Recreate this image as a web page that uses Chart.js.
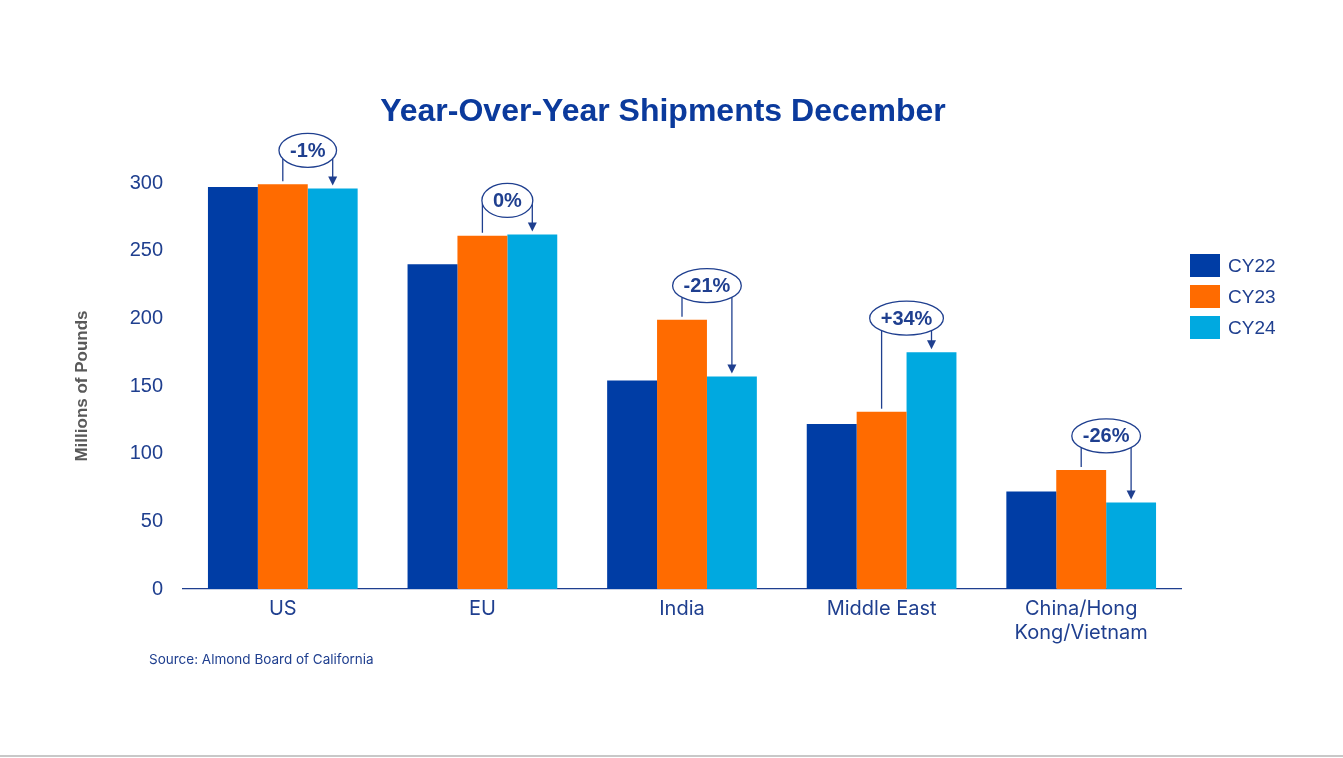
<!DOCTYPE html>
<html lang="en">
<head>
    <meta charset="UTF-8">
    <title>Year-Over-Year Shipments December</title>
    <script src="https://cdn.jsdelivr.net/npm/chart.js"></script>
    <style>
        body { margin: 0; background: #fff; overflow: hidden; }
        #wrap { position: relative; width: 1343px; height: 758px; }
        #title { position: absolute; left: 0; width: 1326px; top: 92px; text-align: center; font-family: "Liberation Sans", Arial, sans-serif; font-weight: bold; font-size: 32px; color: #0b3a9c; }
        #legend { position: absolute; left: 1190px; top: 250px; font-family: "Liberation Sans", Arial, sans-serif; font-size: 19px; color: #1f3f8f; }
        .row { display: flex; align-items: center; height: 31px; }
        .sw { width: 30px; height: 23px; margin-right: 8px; }
        #source { position: absolute; left: 149px; top: 651px; font-family: Inter, "Noto Sans", sans-serif; font-size: 13.5px; color: #1f3f8f; }
        #rule { position: absolute; left: 0; top: 755px; width: 1343px; height: 2px; background: #c8c8c8; }
    </style>
</head>
<body>
<div id="wrap">
    <canvas id="shipChart" width="1343" height="758"></canvas>
    <div id="title">Year-Over-Year Shipments December</div>
    <div id="legend"></div>
    <div id="source">Source: Almond Board of California</div>
    <div id="rule"></div>
</div>

<script>
    // data (millions of pounds)
    const regions = ['US', 'EU', 'India', 'Middle East', ['China/Hong', 'Kong/Vietnam']];
    const seriesNames = ['CY22', 'CY23', 'CY24'];
    const cy22 = [297, 240, 154, 122, 72];
    const cy23 = [299, 261, 199, 131, 88];
    const cy24 = [296, 262, 157, 175, 64];
    const changeLabels = ['-1%', '0%', '-21%', '+34%', '-26%'];
    const yTicks = [0, 50, 100, 150, 200, 250, 300];

    const colors = ['#003da5', '#ff6b00', '#00a9e0'];
    const ink = '#1f3f8f';

    // legend
    const legendEl = document.getElementById('legend');
    seriesNames.forEach((name, i) => {
        const row = document.createElement('div');
        row.className = 'row';
        row.innerHTML = '<div class="sw" style="background:' + colors[i] + '"></div>' + name;
        legendEl.appendChild(row);
    });

    // ellipse callouts with bracket lines from CY23 to CY24
    const callouts = {
        id: 'callouts',
        afterDatasetsDraw(chart) {
            const ctx = chart.ctx;
            const y = chart.scales.y;
            const m23 = chart.getDatasetMeta(1).data;
            const m24 = chart.getDatasetMeta(2).data;
            ctx.save();
            ctx.font = 'bold 20px "Liberation Sans", Arial, sans-serif';
            ctx.strokeStyle = ink;
            ctx.fillStyle = ink;
            ctx.lineWidth = 1.3;
            changeLabels.forEach((txt, i) => {
                const b23 = m23[i], b24 = m24[i];
                const top = y.getPixelForValue(Math.max(cy23[i], cy24[i]));
                const cx = (b23.x + b24.x) / 2;
                const cyy = top - 34;
                const rx = (ctx.measureText(txt).width + 22) / 2;
                const ry = 17;
                const edge = (x) => {
                    const d = Math.abs(x - cx);
                    return d >= rx ? cyy : cyy + ry * Math.sqrt(1 - (d / rx) * (d / rx));
                };
                // left leg down to CY23
                ctx.beginPath();
                ctx.moveTo(b23.x, edge(b23.x));
                ctx.lineTo(b23.x, b23.y - 3);
                ctx.stroke();
                // right leg with arrow to CY24
                const tip = b24.y - 3;
                ctx.beginPath();
                ctx.moveTo(b24.x, edge(b24.x));
                ctx.lineTo(b24.x, tip - 8);
                ctx.stroke();
                ctx.beginPath();
                ctx.moveTo(b24.x - 4.5, tip - 9);
                ctx.lineTo(b24.x + 4.5, tip - 9);
                ctx.lineTo(b24.x, tip);
                ctx.closePath();
                ctx.fill();
                // ellipse
                ctx.beginPath();
                ctx.ellipse(cx, cyy, rx, ry, 0, 0, Math.PI * 2);
                ctx.fillStyle = '#fff';
                ctx.fill();
                ctx.stroke();
                ctx.fillStyle = ink;
                ctx.textAlign = 'center';
                ctx.textBaseline = 'middle';
                ctx.fillText(txt, cx, cyy + 1);
            });
            ctx.restore();
        }
    };

    const ctx = document.getElementById('shipChart').getContext('2d');
    new Chart(ctx, {
        type: 'bar',
        data: {
            labels: regions,
            datasets: [cy22, cy23, cy24].map((vals, i) => ({
                label: seriesNames[i],
                data: vals,
                backgroundColor: colors[i],
                borderWidth: 0,
                categoryPercentage: 0.75,
                barPercentage: 1
            }))
        },
        options: {
            responsive: false,
            animation: false,
            layout: { padding: { left: 0, right: 162, top: 183, bottom: 0 } },
            plugins: {
                legend: { display: false },
                tooltip: { enabled: false },
                title: { display: false }
            },
            scales: {
                x: {
                    grid: { display: false, drawTicks: false },
                    border: { display: true, color: ink, width: 1.2 },
                    ticks: {
                        color: ink,
                        padding: 8,
                        maxRotation: 0,
                        font: { family: 'Inter, "Noto Sans", sans-serif', size: 20, lineHeight: 1.2 }
                    },
                    afterFit(scale) { scale.height = 169; }
                },
                y: {
                    min: 0,
                    max: 300,
                    afterBuildTicks(scale) { scale.ticks = yTicks.map(v => ({ value: v })); },
                    grid: { display: false, drawTicks: false },
                    border: { display: false },
                    ticks: {
                        color: ink,
                        padding: 20,
                        font: { family: '"Liberation Sans", Arial, sans-serif', size: 20 }
                    },
                    title: {
                        display: true,
                        text: 'Millions of Pounds',
                        color: '#595959',
                        font: { family: '"Liberation Sans", Arial, sans-serif', size: 17, weight: 'bold' },
                        padding: { top: 72, bottom: 0 }
                    },
                    afterFit(scale) { scale.width = 183; }
                }
            }
        },
        plugins: [callouts]
    });
</script>
</body>
</html>
